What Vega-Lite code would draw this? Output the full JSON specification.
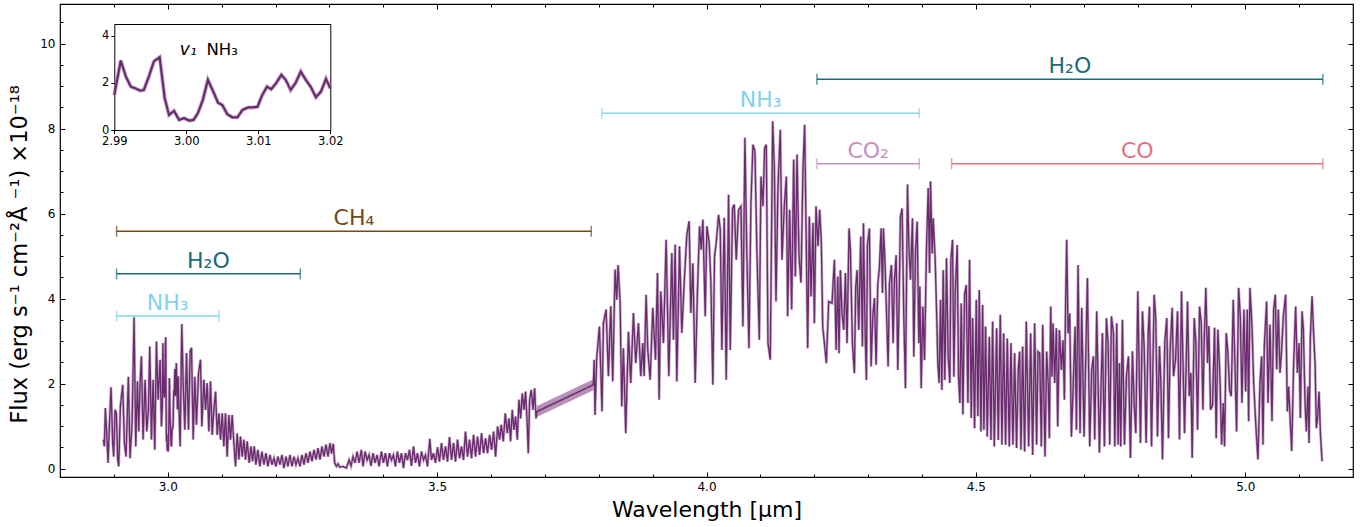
{
"$schema": "https://vega.github.io/schema/vega-lite/v6.json",
"width": 1293, "height": 473,
"autosize": {"type": "none"},
"padding": {"left": 60, "top": 4, "right": 16, "bottom": 50},
"config": {"view": {"stroke": "#000", "strokeWidth": 1.2}, "font": "DejaVu Sans",
  "axis": {"labelFont": "DejaVu Sans", "titleFont": "DejaVu Sans", "labelColor": "#000", "tickColor": "#000", "titleColor": "#000", "titleFontWeight": "normal", "grid": false, "domain": false, "labelOverlap": false, "labelBound": false, "labelFlush": false, "tickWidth": 1}},
"datasets": {
"sp": [
{"w":2.8805,"f":0.68},{"w":2.8823,"f":0.52},{"w":2.8842,"f":1.42},{"w":2.8873,"f":0.68},{"w":2.8892,"f":0.13},{"w":2.8916,"f":0.99},{"w":2.8947,"f":1.91},{"w":2.8978,"f":0.60},{"w":2.8997,"f":0.28},{"w":2.9022,"f":1.38},{"w":2.9046,"f":1.30},{"w":2.9071,"f":0.21},{"w":2.9090,"f":0.05},{"w":2.9121,"f":1.46},{"w":2.9164,"f":1.97},{"w":2.9195,"f":0.60},{"w":2.9226,"f":0.28},{"w":2.9269,"f":2.16},{"w":2.9300,"f":0.24},{"w":2.9338,"f":1.07},{"w":2.9375,"f":3.56},{"w":2.9406,"f":0.52},{"w":2.9437,"f":2.05},{"w":2.9462,"f":0.87},{"w":2.9486,"f":2.01},{"w":2.9511,"f":2.64},{"w":2.9542,"f":0.68},{"w":2.9579,"f":2.09},{"w":2.9610,"f":0.87},{"w":2.9641,"f":1.38},{"w":2.9666,"f":2.87},{"w":2.9697,"f":0.68},{"w":2.9728,"f":2.09},{"w":2.9759,"f":0.44},{"w":2.9790,"f":2.99},{"w":2.9821,"f":1.62},{"w":2.9858,"f":2.56},{"w":2.9883,"f":0.99},
{"w":2.9900,"f":1.49},{"w":2.9909,"f":2.95},{"w":2.9916,"f":2.27},{"w":2.9923,"f":1.84},{"w":2.9929,"f":1.77},{"w":2.9936,"f":1.67},{"w":2.9941,"f":1.70},{"w":2.9948,"f":2.27},{"w":2.9955,"f":2.91},{"w":2.9963,"f":3.09},{"w":2.9966,"f":2.34},{"w":2.9970,"f":1.35},{"w":2.9976,"f":0.64},{"w":2.9983,"f":0.81},{"w":2.9990,"f":0.43},{"w":2.9997,"f":0.50},{"w":3.0004,"f":0.40},{"w":3.0010,"f":0.43},{"w":3.0016,"f":0.71},{"w":3.0023,"f":1.28},{"w":3.0030,"f":2.13},{"w":3.0038,"f":1.59},{"w":3.0044,"f":1.16},{"w":3.0050,"f":1.06},{"w":3.0057,"f":0.67},{"w":3.0064,"f":0.54},{"w":3.0071,"f":0.54},{"w":3.0078,"f":0.85},{"w":3.0086,"f":0.96},{"w":3.0093,"f":0.96},{"w":3.0099,"f":0.99},{"w":3.0105,"f":1.45},{"w":3.0112,"f":1.84},{"w":3.0118,"f":1.73},{"w":3.0125,"f":2.00},{"w":3.0132,"f":2.34},{"w":3.0138,"f":2.13},{"w":3.0145,"f":1.70},{"w":3.0152,"f":2.01},{"w":3.0159,"f":2.48},{"w":3.0166,"f":2.13},{"w":3.0173,"f":1.82},{"w":3.0180,"f":1.39},{"w":3.0187,"f":1.63},{"w":3.0194,"f":2.17},{"w":3.0200,"f":1.77},
{"w":3.0230,"f":0.52},{"w":3.0261,"f":3.40},{"w":3.0286,"f":2.01},{"w":3.0317,"f":0.91},{"w":3.0348,"f":2.72},{"w":3.0385,"f":0.91},{"w":3.0416,"f":2.76},{"w":3.0441,"f":2.84},{"w":3.0472,"f":0.68},{"w":3.0502,"f":2.16},{"w":3.0533,"f":1.03},{"w":3.0571,"f":2.24},{"w":3.0608,"f":2.56},{"w":3.0633,"f":0.99},{"w":3.0670,"f":2.09},{"w":3.0701,"f":1.38},{"w":3.0732,"f":2.01},{"w":3.0763,"f":0.87},{"w":3.0794,"f":2.05},{"w":3.0825,"f":0.79},{"w":3.0856,"f":1.38},{"w":3.0887,"f":1.81},{"w":3.0918,"f":0.79},{"w":3.0949,"f":1.30},{"w":3.0980,"f":0.68},{"w":3.1011,"f":1.30},{"w":3.1041,"f":0.52},{"w":3.1072,"f":1.30},{"w":3.1103,"f":0.28},{"w":3.1134,"f":1.26},{"w":3.1165,"f":0.68},{"w":3.1196,"f":1.26},{"w":3.1227,"f":0.60},{"w":3.1258,"f":0.05},{"w":3.1289,"f":0.83},{"w":3.1320,"f":0.21},{"w":3.1351,"f":0.75},{"w":3.1382,"f":0.28},{"w":3.1413,"f":0.68},{"w":3.1444,"f":0.21},{"w":3.1475,"f":0.64},{"w":3.1512,"f":0.13},{"w":3.1543,"f":0.52},{"w":3.1574,"f":0.17},{"w":3.1605,"f":0.52},{"w":3.1636,"f":0.09},{"w":3.1673,"f":0.44},{"w":3.1710,"f":0.05},{"w":3.1748,"f":0.40},{"w":3.1785,"f":0.09},{"w":3.1822,"f":0.36},{"w":3.1859,"f":0.05},{"w":3.1897,"f":0.32},{"w":3.1934,"f":0.09},{"w":3.1971,"f":0.24},{"w":3.2008,"f":0.05},{"w":3.2045,"f":0.28},{"w":3.2083,"f":0.09},{"w":3.2120,"f":0.32},{"w":3.2157,"f":0.01},{"w":3.2194,"f":0.28},{"w":3.2231,"f":0.05},{"w":3.2268,"f":0.32},{"w":3.2306,"f":0.05},{"w":3.2343,"f":0.28},{"w":3.2380,"f":0.09},{"w":3.2417,"f":0.24},{"w":3.2454,"f":0.05},{"w":3.2491,"f":0.32},{"w":3.2529,"f":0.09},{"w":3.2566,"f":0.36},{"w":3.2603,"f":0.13},{"w":3.2640,"f":0.40},{"w":3.2677,"f":0.17},{"w":3.2715,"f":0.44},{"w":3.2752,"f":0.21},{"w":3.2789,"f":0.48},{"w":3.2826,"f":0.21},{"w":3.2863,"f":0.52},{"w":3.2900,"f":0.28},{"w":3.2938,"f":0.56},{"w":3.2975,"f":0.28},{"w":3.3012,"f":0.60},{"w":3.3040,"f":0.35},{"w":3.3072,"f":0.58},{"w":3.3099,"f":0.13},
{"w":3.3130,"f":0.05},{"w":3.3161,"f":0.11},{"w":3.3191,"f":0.03},{"w":3.3253,"f":0.05},{"w":3.3315,"f":0.01},{"w":3.3365,"f":0.20},{"w":3.3402,"f":0.06},{"w":3.3439,"f":0.28},{"w":3.3477,"f":0.13},{"w":3.3514,"f":0.40},{"w":3.3551,"f":0.13},{"w":3.3594,"f":0.44},{"w":3.3625,"f":0.05},{"w":3.3662,"f":0.40},{"w":3.3700,"f":0.20},{"w":3.3737,"f":0.32},{"w":3.3774,"f":0.06},{"w":3.3811,"f":0.36},{"w":3.3848,"f":0.13},{"w":3.3885,"f":0.32},{"w":3.3923,"f":0.05},{"w":3.3966,"f":0.40},{"w":3.4003,"f":0.13},{"w":3.4040,"f":0.36},{"w":3.4077,"f":0.05},{"w":3.4115,"f":0.36},{"w":3.4152,"f":0.20},{"w":3.4189,"f":0.32},{"w":3.4226,"f":0.05},{"w":3.4263,"f":0.40},{"w":3.4301,"f":0.13},{"w":3.4338,"f":0.36},{"w":3.4375,"f":0.01},{"w":3.4412,"f":0.36},{"w":3.4449,"f":0.20},{"w":3.4487,"f":0.44},{"w":3.4524,"f":0.06},{"w":3.4561,"f":0.52},{"w":3.4598,"f":0.13},{"w":3.4635,"f":0.36},{"w":3.4672,"f":0.05},{"w":3.4710,"f":0.40},{"w":3.4747,"f":0.20},{"w":3.4784,"f":0.32},{"w":3.4821,"f":0.05},{"w":3.4864,"f":0.70},{"w":3.4895,"f":0.20},{"w":3.4932,"f":0.36},{"w":3.4970,"f":0.13},{"w":3.5007,"f":0.50},{"w":3.5044,"f":0.16},{"w":3.5081,"f":0.60},{"w":3.5118,"f":0.20},{"w":3.5156,"f":0.52},{"w":3.5193,"f":0.16},{"w":3.5230,"f":0.74},{"w":3.5267,"f":0.20},{"w":3.5304,"f":0.60},{"w":3.5341,"f":0.16},{"w":3.5379,"f":0.68},{"w":3.5416,"f":0.24},{"w":3.5453,"f":0.52},{"w":3.5490,"f":0.20},{"w":3.5527,"f":0.87},{"w":3.5565,"f":0.28},{"w":3.5602,"f":0.68},{"w":3.5639,"f":0.24},{"w":3.5676,"f":0.79},{"w":3.5713,"f":0.28},{"w":3.5750,"f":0.75},{"w":3.5788,"f":0.32},{"w":3.5825,"f":0.83},{"w":3.5862,"f":0.36},{"w":3.5899,"f":0.71},{"w":3.5936,"f":0.36},{"w":3.5974,"f":0.79},{"w":3.6011,"f":0.44},{"w":3.6048,"f":0.87},{"w":3.6085,"f":0.28},{"w":3.6122,"f":0.99},{"w":3.6159,"f":0.68},{"w":3.6190,"f":1.03},{"w":3.6228,"f":0.64},{"w":3.6265,"f":1.30},{"w":3.6302,"f":0.83},{"w":3.6333,"f":1.18},{"w":3.6364,"f":0.64},{"w":3.6395,"f":1.38},{"w":3.6426,"f":0.91},{"w":3.6457,"f":1.22},{"w":3.6488,"f":0.68},{"w":3.6519,"f":1.62},{"w":3.6550,"f":1.18},{"w":3.6581,"f":1.77},{"w":3.6612,"f":1.38},{"w":3.6643,"f":1.81},{"w":3.6674,"f":0.99},{"w":3.6692,"f":0.36},{"w":3.6717,"f":1.62},{"w":3.6748,"f":1.85},{"w":3.6779,"f":1.38},{"w":3.6810,"f":1.89},{"w":3.6835,"f":1.18},{"w":3.6853,"f":1.34},
{"w":3.7900,"f":1.97},{"w":3.7915,"f":2.56},{"w":3.7931,"f":1.26},
{"w":3.7962,"f":2.60},{"w":3.8012,"f":3.34},{"w":3.8061,"f":1.34},{"w":3.8086,"f":3.42},{"w":3.8136,"f":3.74},{"w":3.8179,"f":2.17},{"w":3.8223,"f":3.82},{"w":3.8260,"f":2.05},{"w":3.8303,"f":4.68},{"w":3.8334,"f":3.97},{"w":3.8359,"f":4.79},{"w":3.8396,"f":3.93},{"w":3.8427,"f":1.46},{"w":3.8458,"f":2.83},{"w":3.8501,"f":0.83},{"w":3.8551,"f":3.22},{"w":3.8594,"f":2.01},{"w":3.8644,"f":3.66},{"w":3.8687,"f":2.48},{"w":3.8737,"f":3.42},{"w":3.8780,"f":2.17},{"w":3.8817,"f":2.95},{"w":3.8842,"f":2.17},{"w":3.8879,"f":4.09},{"w":3.8910,"f":2.79},{"w":3.8954,"f":2.09},{"w":3.9003,"f":3.78},{"w":3.9053,"f":2.56},{"w":3.9090,"f":4.60},{"w":3.9121,"f":1.62},{"w":3.9152,"f":4.17},{"w":3.9201,"f":2.95},{"w":3.9251,"f":5.38},{"w":3.9301,"f":2.17},{"w":3.9356,"f":5.07},{"w":3.9387,"f":3.03},{"w":3.9418,"f":5.27},{"w":3.9449,"f":2.05},{"w":3.9499,"f":5.23},{"w":3.9542,"f":3.19},{"w":3.9592,"f":4.52},{"w":3.9635,"f":5.50},{"w":3.9678,"f":5.82},{"w":3.9709,"f":3.66},{"w":3.9747,"f":4.83},{"w":3.9790,"f":2.01},{"w":3.9833,"f":4.21},{"w":3.9871,"f":5.70},{"w":3.9902,"f":5.15},{"w":3.9933,"f":5.86},{"w":3.9976,"f":3.58},{"w":4.0007,"f":5.70},{"w":4.0050,"f":5.31},{"w":4.0081,"f":4.37},{"w":4.0118,"f":1.97},{"w":4.0149,"f":4.99},{"w":4.0180,"f":5.31},{"w":4.0224,"f":5.97},{"w":4.0255,"f":5.62},{"w":4.0286,"f":2.79},{"w":4.0329,"f":5.90},{"w":4.0366,"f":2.09},{"w":4.0410,"f":6.44},{"w":4.0441,"f":2.79},{"w":4.0484,"f":6.13},{"w":4.0515,"f":6.21},{"w":4.0552,"f":4.91},{"w":4.0596,"f":6.09},{"w":4.0639,"f":6.17},{"w":4.0676,"f":3.34},{"w":4.0713,"f":7.78},{"w":4.0750,"f":4.99},{"w":4.0788,"f":2.83},{"w":4.0825,"f":6.25},{"w":4.0862,"f":7.62},{"w":4.0899,"f":7.47},{"w":4.0936,"f":5.07},{"w":4.0980,"f":3.03},{"w":4.1011,"f":6.87},{"w":4.1048,"f":6.17},{"w":4.1079,"f":7.54},{"w":4.1110,"f":7.62},{"w":4.1141,"f":2.95},{"w":4.1184,"f":2.56},{"w":4.1228,"f":8.17},{"w":4.1259,"f":7.11},{"w":4.1290,"f":3.93},{"w":4.1327,"f":6.64},{"w":4.1370,"f":7.97},{"w":4.1401,"f":4.91},{"w":4.1444,"f":6.17},{"w":4.1482,"f":6.87},{"w":4.1506,"f":3.58},{"w":4.1543,"f":6.09},{"w":4.1581,"f":3.74},{"w":4.1618,"f":7.27},{"w":4.1649,"f":4.52},{"w":4.1680,"f":7.39},{"w":4.1717,"f":4.99},{"w":4.1754,"f":4.37},{"w":4.1791,"f":7.07},{"w":4.1822,"f":8.09},{"w":4.1853,"f":5.15},{"w":4.1878,"f":2.83},{"w":4.1909,"f":5.93},{"w":4.1940,"f":4.05},{"w":4.1977,"f":5.78},{"w":4.2002,"f":3.42},{"w":4.2033,"f":6.17},{"w":4.2070,"f":5.23},{"w":4.2101,"f":6.09},{"w":4.2132,"f":5.31},{"w":4.2157,"f":3.34},{"w":4.2194,"f":2.87},{"w":4.2225,"f":2.48},{"w":4.2268,"f":3.93},
{"w":4.2330,"f":3.89},{"w":4.2374,"f":4.91},{"w":4.2405,"f":2.79},{"w":4.2436,"f":4.52},{"w":4.2460,"f":2.71},{"w":4.2485,"f":4.67},{"w":4.2516,"f":3.65},{"w":4.2547,"f":3.26},{"w":4.2578,"f":4.60},{"w":4.2609,"f":2.95},{"w":4.2646,"f":5.65},{"w":4.2671,"f":5.14},{"w":4.2708,"f":2.95},{"w":4.2745,"f":2.24},{"w":4.2770,"f":4.28},{"w":4.2795,"f":4.67},{"w":4.2826,"f":3.26},{"w":4.2863,"f":5.46},{"w":4.2894,"f":2.87},{"w":4.2913,"f":5.77},{"w":4.2944,"f":3.26},{"w":4.2968,"f":2.08},{"w":4.2987,"f":5.26},{"w":4.3024,"f":5.65},{"w":4.3055,"f":2.40},{"w":4.3086,"f":3.58},{"w":4.3117,"f":4.01},{"w":4.3148,"f":2.44},{"w":4.3179,"f":4.32},{"w":4.3210,"f":4.75},{"w":4.3241,"f":5.65},{"w":4.3266,"f":4.13},{"w":4.3284,"f":5.65},{"w":4.3309,"f":4.99},{"w":4.3340,"f":3.73},{"w":4.3371,"f":2.40},{"w":4.3396,"f":4.36},{"w":4.3433,"f":4.79},{"w":4.3464,"f":2.95},{"w":4.3489,"f":4.44},{"w":4.3520,"f":5.02},{"w":4.3551,"f":2.32},{"w":4.3576,"f":4.01},{"w":4.3600,"f":5.93},{"w":4.3631,"f":6.12},{"w":4.3662,"f":3.58},{"w":4.3693,"f":1.89},{"w":4.3731,"f":6.68},{"w":4.3755,"f":5.30},{"w":4.3786,"f":4.44},{"w":4.3823,"f":5.89},{"w":4.3848,"f":2.63},{"w":4.3879,"f":5.10},{"w":4.3910,"f":5.81},{"w":4.3941,"f":2.95},{"w":4.3960,"f":4.28},{"w":4.3985,"f":1.89},{"w":4.4016,"f":3.81},{"w":4.4047,"f":2.55},{"w":4.4084,"f":5.22},{"w":4.4115,"f":6.60},{"w":4.4140,"f":4.60},{"w":4.4158,"f":6.76},{"w":4.4189,"f":5.06},{"w":4.4208,"f":5.89},{"w":4.4245,"f":4.91},{"w":4.4270,"f":3.73},{"w":4.4294,"f":2.48},{"w":4.4319,"f":2.01},{"w":4.4344,"f":3.97},{"w":4.4369,"f":1.85},{"w":4.4393,"f":4.67},{"w":4.4424,"f":2.08},{"w":4.4455,"f":4.95},{"w":4.4486,"f":2.63},{"w":4.4517,"f":2.01},{"w":4.4536,"f":4.91},{"w":4.4567,"f":5.38},{"w":4.4592,"f":2.16},{"w":4.4617,"f":4.13},{"w":4.4654,"f":5.26},{"w":4.4678,"f":2.16},{"w":4.4703,"f":1.54},{"w":4.4728,"f":3.89},{"w":4.4759,"f":1.27},{"w":4.4790,"f":4.09},{"w":4.4821,"f":4.32},{"w":4.4852,"f":1.54},{"w":4.4883,"f":4.91},{"w":4.4914,"f":1.19},{"w":4.4939,"f":3.54},{"w":4.4976,"f":0.95},{"w":4.5007,"f":3.97},{"w":4.5038,"f":1.23},{"w":4.5063,"f":4.20},{"w":4.5094,"f":0.87},{"w":4.5125,"f":3.85},{"w":4.5149,"f":0.91},{"w":4.5180,"f":3.34},{"w":4.5211,"f":0.75},{"w":4.5249,"f":3.10},{"w":4.5280,"f":0.67},{"w":4.5311,"f":3.46},{"w":4.5342,"f":0.52},{"w":4.5385,"f":3.30},{"w":4.5416,"f":0.67},{"w":4.5453,"f":3.62},{"w":4.5484,"f":0.56},{"w":4.5515,"f":3.18},{"w":4.5552,"f":0.56},{"w":4.5583,"f":3.06},{"w":4.5620,"f":0.52},{"w":4.5651,"f":2.95},{"w":4.5688,"f":0.56},{"w":4.5719,"f":2.71},{"w":4.5756,"f":0.48},{"w":4.5787,"f":2.32},{"w":4.5812,"f":2.75},{"w":4.5837,"f":0.44},{"w":4.5868,"f":2.87},{"w":4.5905,"f":0.40},{"w":4.5936,"f":3.46},{"w":4.5980,"f":0.52},{"w":4.6017,"f":3.18},{"w":4.6054,"f":0.32},{"w":4.6091,"f":3.42},{"w":4.6128,"f":0.56},{"w":4.6153,"f":2.75},{"w":4.6184,"f":2.71},{"w":4.6215,"f":0.52},{"w":4.6240,"f":3.38},{"w":4.6283,"f":0.28},{"w":4.6314,"f":2.75},{"w":4.6345,"f":1.93},{"w":4.6364,"f":0.71},{"w":4.6389,"f":3.81},{"w":4.6413,"f":2.16},{"w":4.6432,"f":3.42},{"w":4.6463,"f":2.01},{"w":4.6494,"f":3.30},{"w":4.6519,"f":0.99},{"w":4.6550,"f":3.26},{"w":4.6587,"f":2.32},{"w":4.6618,"f":3.02},{"w":4.6643,"f":1.62},{"w":4.6667,"f":4.00},{"w":4.6686,"f":5.38},{"w":4.6711,"f":3.18},{"w":4.6742,"f":3.65},{"w":4.6773,"f":0.75},{"w":4.6804,"f":1.85},{"w":4.6841,"f":3.34},{"w":4.6866,"f":0.91},
{"w":4.6897,"f":4.79},{"w":4.6934,"f":0.83},{"w":4.6965,"f":3.78},{"w":4.7008,"f":0.75},{"w":4.7070,"f":4.48},{"w":4.7113,"f":0.52},{"w":4.7150,"f":2.33},{"w":4.7181,"f":2.64},{"w":4.7206,"f":0.68},{"w":4.7243,"f":3.70},{"w":4.7293,"f":0.37},{"w":4.7349,"f":3.19},{"w":4.7386,"f":0.52},{"w":4.7423,"f":3.54},{"w":4.7454,"f":2.95},{"w":4.7485,"f":0.56},{"w":4.7516,"f":3.58},{"w":4.7553,"f":3.19},{"w":4.7578,"f":0.52},{"w":4.7615,"f":3.42},{"w":4.7640,"f":0.56},{"w":4.7665,"f":2.48},{"w":4.7689,"f":0.52},{"w":4.7720,"f":3.50},{"w":4.7758,"f":0.56},{"w":4.7795,"f":2.17},{"w":4.7832,"f":2.64},{"w":4.7869,"f":0.25},{"w":4.7906,"f":2.76},{"w":4.7937,"f":1.54},{"w":4.7968,"f":0.83},{"w":4.8006,"f":4.17},{"w":4.8055,"f":0.60},{"w":4.8092,"f":3.70},{"w":4.8123,"f":2.88},{"w":4.8160,"f":0.60},{"w":4.8198,"f":3.19},{"w":4.8222,"f":3.81},{"w":4.8260,"f":0.52},{"w":4.8309,"f":4.09},{"w":4.8340,"f":3.50},{"w":4.8371,"f":0.75},{"w":4.8408,"f":2.88},{"w":4.8433,"f":2.05},{"w":4.8464,"f":0.21},{"w":4.8507,"f":2.99},{"w":4.8544,"f":3.54},{"w":4.8575,"f":0.71},{"w":4.8606,"f":2.80},{"w":4.8644,"f":3.78},{"w":4.8668,"f":2.17},{"w":4.8706,"f":2.56},{"w":4.8743,"f":3.70},{"w":4.8780,"f":0.68},{"w":4.8817,"f":4.17},{"w":4.8842,"f":2.64},{"w":4.8873,"f":0.83},{"w":4.8904,"f":2.52},{"w":4.8929,"f":3.93},{"w":4.8960,"f":1.70},{"w":4.8991,"f":2.25},{"w":4.9015,"f":0.25},{"w":4.9053,"f":3.54},{"w":4.9084,"f":2.95},{"w":4.9115,"f":0.91},{"w":4.9152,"f":3.81},{"w":4.9183,"f":3.42},{"w":4.9214,"f":1.38},{"w":4.9238,"f":3.03},{"w":4.9269,"f":4.25},{"w":4.9300,"f":2.48},{"w":4.9325,"f":3.35},{"w":4.9356,"f":1.38},{"w":4.9393,"f":1.50},{"w":4.9430,"f":3.31},{"w":4.9461,"f":0.71},{"w":4.9492,"f":3.27},{"w":4.9530,"f":2.17},{"w":4.9561,"f":0.56},{"w":4.9592,"f":1.54},{"w":4.9616,"f":0.52},{"w":4.9647,"f":3.19},{"w":4.9678,"f":2.72},{"w":4.9709,"f":1.85},{"w":4.9740,"f":1.70},{"w":4.9777,"f":3.97},{"w":4.9808,"f":2.48},{"w":4.9839,"f":0.87},{"w":4.9877,"f":4.25},{"w":4.9908,"f":3.58},{"w":4.9939,"f":1.54},{"w":4.9976,"f":3.74},{"w":5.0007,"f":1.81},{"w":5.0038,"f":3.74},{"w":5.0063,"f":1.11},{"w":5.0087,"f":4.25},{"w":5.0125,"f":3.35},{"w":5.0156,"f":2.01},{"w":5.0199,"f":0.95},{"w":5.0236,"f":0.21},{"w":5.0273,"f":2.01},{"w":5.0304,"f":2.64},{"w":5.0329,"f":0.56},{"w":5.0354,"f":2.88},{"w":5.0397,"f":3.93},{"w":5.0422,"f":1.54},{"w":5.0459,"f":3.39},{"w":5.0496,"f":1.11},{"w":5.0527,"f":3.74},{"w":5.0558,"f":4.09},{"w":5.0583,"f":2.33},{"w":5.0614,"f":3.74},{"w":5.0645,"f":2.25},{"w":5.0676,"f":2.80},{"w":5.0707,"f":3.58},{"w":5.0750,"f":4.09},{"w":5.0781,"f":1.34},{"w":5.0806,"f":1.93},{"w":5.0831,"f":1.23},{"w":5.0862,"f":0.41},{"w":5.0899,"f":2.48},{"w":5.0936,"f":3.81},{"w":5.0967,"f":2.25},{"w":5.0998,"f":2.95},{"w":5.1023,"f":1.19},{"w":5.1054,"f":3.70},{"w":5.1079,"f":3.27},{"w":5.1110,"f":1.54},{"w":5.1134,"f":0.87},{"w":5.1165,"f":1.93},{"w":5.1184,"f":0.60},{"w":5.1209,"f":3.11},{"w":5.1240,"f":4.05},{"w":5.1271,"f":3.11},{"w":5.1296,"f":2.48},{"w":5.1320,"f":0.95},{"w":5.1345,"f":1.23},{"w":5.1370,"f":1.81},{"w":5.1395,"f":0.83},{"w":5.1426,"f":0.17}
],
"inset": [
{"w":2.9900,"f":1.49},{"w":2.9909,"f":2.95},{"w":2.9916,"f":2.27},{"w":2.9923,"f":1.84},{"w":2.9929,"f":1.77},{"w":2.9936,"f":1.67},{"w":2.9941,"f":1.70},{"w":2.9948,"f":2.27},{"w":2.9955,"f":2.91},{"w":2.9963,"f":3.09},{"w":2.9966,"f":2.34},{"w":2.9970,"f":1.35},{"w":2.9976,"f":0.64},{"w":2.9983,"f":0.81},{"w":2.9990,"f":0.43},{"w":2.9997,"f":0.50},{"w":3.0004,"f":0.40},{"w":3.0010,"f":0.43},{"w":3.0016,"f":0.71},{"w":3.0023,"f":1.28},{"w":3.0030,"f":2.13},{"w":3.0038,"f":1.59},{"w":3.0044,"f":1.16},{"w":3.0050,"f":1.06},{"w":3.0057,"f":0.67},{"w":3.0064,"f":0.54},{"w":3.0071,"f":0.54},{"w":3.0078,"f":0.85},{"w":3.0086,"f":0.96},{"w":3.0093,"f":0.96},{"w":3.0099,"f":0.99},{"w":3.0105,"f":1.45},{"w":3.0112,"f":1.84},{"w":3.0118,"f":1.73},{"w":3.0125,"f":2.00},{"w":3.0132,"f":2.34},{"w":3.0138,"f":2.13},{"w":3.0145,"f":1.70},{"w":3.0152,"f":2.01},{"w":3.0159,"f":2.48},{"w":3.0166,"f":2.13},{"w":3.0173,"f":1.82},{"w":3.0180,"f":1.39},{"w":3.0187,"f":1.63},{"w":3.0194,"f":2.17},{"w":3.0200,"f":1.77}
],
"gap": [{"w":3.6853,"lo":1.21,"hi":1.47},{"w":3.7900,"lo":1.84,"hi":2.10}],
"br": [
{"mol":"CH₄","x1":2.905,"x2":3.786,"y":5.58},
{"mol":"H₂O","x1":2.905,"x2":3.246,"y":4.58},
{"mol":"NH₃","x1":2.905,"x2":3.095,"y":3.59},
{"mol":"NH₃","x1":3.806,"x2":4.395,"y":8.36},
{"mol":"H₂O","x1":4.205,"x2":5.144,"y":9.16},
{"mol":"CO₂","x1":4.205,"x2":4.395,"y":7.17},
{"mol":"CO","x1":4.455,"x2":5.144,"y":7.17}
]
},
"layer": [
{
"layer": [
{"data": {"name": "gap"}, "mark": {"type": "area", "color": "#9d6f9f", "opacity": 0.75},
 "encoding": {"x": {"field": "w", "type": "quantitative", "scale": {"domain": [2.8, 5.2], "nice": false, "zero": false}, "axis": null},
  "y": {"field": "lo", "type": "quantitative", "scale": {"domain": [-0.2, 10.93], "nice": false, "zero": false}, "axis": null},
  "y2": {"field": "hi"}}},
{"data": {"name": "sp"}, "mark": {"type": "line", "color": "#a57ea8", "strokeWidth": 2.8, "opacity": 0.6},
 "encoding": {"x": {"field": "w", "type": "quantitative", "scale": {"domain": [2.8, 5.2], "nice": false, "zero": false},
   "axis": {"orient": "bottom", "values": [2.9,3.0,3.1,3.2,3.3,3.4,3.5,3.6,3.7,3.8,3.9,4.0,4.1,4.2,4.3,4.4,4.5,4.6,4.7,4.8,4.9,5.0,5.1],
     "labelExpr": "abs(datum.value*2-round(datum.value*2))<0.01 ? format(datum.value,'.1f') : ''",
     "tickSize": {"condition": {"test": "abs(datum.value*2-round(datum.value*2))<0.01", "value": -5}, "value": -3},
     "labelFontSize": 12, "labelPadding": 9, "title": "Wavelength [μm]", "titleFontSize": 22, "titlePadding": 5}},
  "y": {"field": "f", "type": "quantitative", "scale": {"domain": [-0.2, 10.93], "nice": false, "zero": false},
   "axis": {"orient": "left", "values": [0,0.5,1,1.5,2,2.5,3,3.5,4,4.5,5,5.5,6,6.5,7,7.5,8,8.5,9,9.5,10,10.5],
     "labelExpr": "abs(datum.value/2-round(datum.value/2))<0.01 ? format(datum.value,'d') : ''",
     "tickSize": {"condition": {"test": "abs(datum.value/2-round(datum.value/2))<0.01", "value": -5}, "value": -3},
     "labelFontSize": 12, "labelPadding": 10, "title": "Flux (erg s⁻¹ cm⁻²Å ⁻¹) ×10⁻¹⁸", "titleFontSize": 22.5, "titlePadding": 8, "titleY": 250}}}},
{"data": {"name": "sp"}, "mark": {"type": "line", "color": "#6a2c6e", "strokeWidth": 1.35},
 "encoding": {"x": {"field": "w", "type": "quantitative", "scale": {"domain": [2.8, 5.2], "nice": false, "zero": false},
   "axis": {"orient": "top", "values": [2.9,3.0,3.1,3.2,3.3,3.4,3.5,3.6,3.7,3.8,3.9,4.0,4.1,4.2,4.3,4.4,4.5,4.6,4.7,4.8,4.9,5.0,5.1],
     "labels": false, "title": null,
     "tickSize": {"condition": {"test": "abs(datum.value*2-round(datum.value*2))<0.01", "value": -5}, "value": -3}}},
  "y": {"field": "f", "type": "quantitative", "scale": {"domain": [-0.2, 10.93], "nice": false, "zero": false},
   "axis": {"orient": "right", "values": [0,0.5,1,1.5,2,2.5,3,3.5,4,4.5,5,5.5,6,6.5,7,7.5,8,8.5,9,9.5,10,10.5],
     "labels": false, "title": null,
     "tickSize": {"condition": {"test": "abs(datum.value/2-round(datum.value/2))<0.01", "value": -5}, "value": -3}}}}},
{"data": {"name": "br"}, "mark": {"type": "rule", "strokeWidth": 1.5},
 "encoding": {"x": {"field": "x1", "type": "quantitative", "scale": {"domain": [2.8, 5.2], "nice": false, "zero": false}, "axis": null},
  "x2": {"field": "x2"},
  "y": {"field": "y", "type": "quantitative", "scale": {"domain": [-0.2, 10.93], "nice": false, "zero": false}, "axis": null},
  "color": {"field": "mol", "type": "nominal", "legend": null, "scale": {"domain": ["NH₃","H₂O","CH₄","CO₂","CO"], "range": ["#7fd3ef","#1d6a78","#744a1e","#c493bf","#e27283"]}}}},
{"data": {"name": "br"}, "transform": [{"fold": ["x1", "x2"], "as": ["k", "xv"]}],
 "mark": {"type": "tick", "orient": "vertical", "size": 11, "thickness": 1.5},
 "encoding": {"x": {"field": "xv", "type": "quantitative", "scale": {"domain": [2.8, 5.2], "nice": false, "zero": false}, "axis": null},
  "y": {"field": "y", "type": "quantitative", "scale": {"domain": [-0.2, 10.93], "nice": false, "zero": false}, "axis": null},
  "color": {"field": "mol", "type": "nominal", "legend": null, "scale": {"domain": ["NH₃","H₂O","CH₄","CO₂","CO"], "range": ["#7fd3ef","#1d6a78","#744a1e","#c493bf","#e27283"]}}}},
{"data": {"name": "br"}, "transform": [{"calculate": "(datum.x1+datum.x2)/2", "as": "xm"}],
 "mark": {"type": "text", "fontSize": 22, "dy": -6, "baseline": "alphabetic", "align": "center", "font": "DejaVu Sans"},
 "encoding": {"x": {"field": "xm", "type": "quantitative", "scale": {"domain": [2.8, 5.2], "nice": false, "zero": false}, "axis": null},
  "y": {"field": "y", "type": "quantitative", "scale": {"domain": [-0.2, 10.93], "nice": false, "zero": false}, "axis": null},
  "text": {"field": "mol"},
  "color": {"field": "mol", "type": "nominal", "legend": null, "scale": {"domain": ["NH₃","H₂O","CH₄","CO₂","CO"], "range": ["#7fd3ef","#1d6a78","#744a1e","#c493bf","#e27283"]}}}}
],
"resolve": {"axis": {"x": "independent", "y": "independent"}}
},
{
"layer": [
{"data": {"name": "inset"}, "mark": {"type": "line", "color": "#a57ea8", "strokeWidth": 4, "opacity": 0.6},
 "encoding": {"x": {"field": "w", "type": "quantitative", "scale": {"domain": [2.99, 3.02], "range": [54.3, 270.3], "nice": false, "zero": false},
   "axis": {"orient": "bottom", "offset": -347, "values": [2.99, 3.0, 3.01, 3.02], "format": ".2f", "tickSize": 3.5, "domain": true, "domainColor": "#000", "labelFontSize": 11.5, "labelPadding": 2, "title": null}},
  "y": {"field": "f", "type": "quantitative", "scale": {"domain": [0, 4.5], "range": [126, 20], "nice": false, "zero": false},
   "axis": {"orient": "left", "offset": -54.3, "values": [0, 2, 4], "format": "d", "tickSize": 3.5, "domain": true, "domainColor": "#000", "labelFontSize": 11.5, "labelPadding": 2, "title": null}}}},
{"data": {"name": "inset"}, "mark": {"type": "line", "color": "#6a2c6e", "strokeWidth": 2.2},
 "encoding": {"x": {"field": "w", "type": "quantitative", "scale": {"domain": [2.99, 3.02], "range": [54.3, 270.3], "nice": false, "zero": false},
   "axis": {"orient": "top", "offset": -20, "ticks": false, "labels": false, "domain": true, "domainColor": "#000", "title": null}},
  "y": {"field": "f", "type": "quantitative", "scale": {"domain": [0, 4.5], "range": [126, 20], "nice": false, "zero": false},
   "axis": {"orient": "right", "offset": -1022.7, "ticks": false, "labels": false, "domain": true, "domainColor": "#000", "title": null}}}},
{"data": {"values": [{"w": 2.9991, "f": 3.19, "t": "v₁"}]},
 "mark": {"type": "text", "fontSize": 17, "fontStyle": "italic", "align": "left", "baseline": "alphabetic", "color": "#000"},
 "encoding": {"x": {"field": "w", "type": "quantitative", "scale": {"domain": [2.99, 3.02], "range": [54.3, 270.3], "nice": false, "zero": false}, "axis": null},
  "y": {"field": "f", "type": "quantitative", "scale": {"domain": [0, 4.5], "range": [126, 20], "nice": false, "zero": false}, "axis": null},
  "text": {"field": "t"}}},
{"data": {"values": [{"w": 3.0028, "f": 3.19, "t": "NH₃"}]},
 "mark": {"type": "text", "fontSize": 16.5, "align": "left", "baseline": "alphabetic", "color": "#000"},
 "encoding": {"x": {"field": "w", "type": "quantitative", "scale": {"domain": [2.99, 3.02], "range": [54.3, 270.3], "nice": false, "zero": false}, "axis": null},
  "y": {"field": "f", "type": "quantitative", "scale": {"domain": [0, 4.5], "range": [126, 20], "nice": false, "zero": false}, "axis": null},
  "text": {"field": "t"}}}
],
"resolve": {"axis": {"x": "independent", "y": "independent"}}
}
],
"resolve": {"scale": {"x": "independent", "y": "independent"}}
}
